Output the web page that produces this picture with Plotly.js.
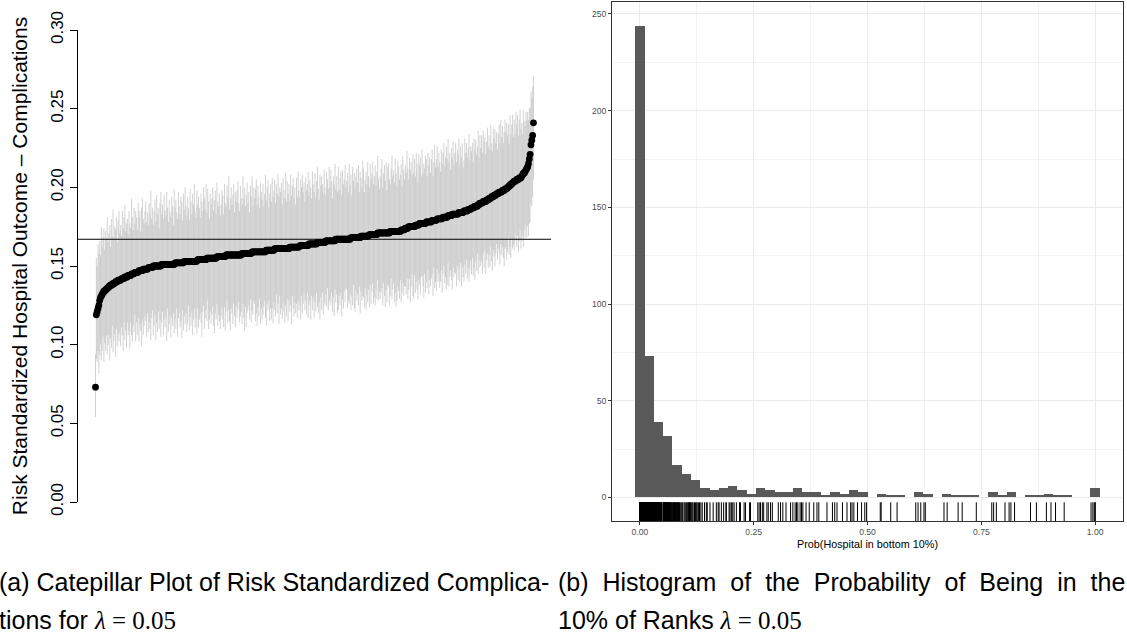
<!DOCTYPE html>
<html><head><meta charset="utf-8">
<script src="https://cdn.plot.ly/plotly-3.0.1.min.js"></script>
<style>html,body{margin:0;padding:0;background:#fff}#chart{width:1127px;height:638px}</style>
</head><body><div id="chart"></div>
<script>
// ---------- (a) Catepillar plot: risk standardized complication rate per hospital (sorted) ----------
const riskEstimate = [
.073,.119,.121,.123,.125,.128,.130,.131,.132,.133,
.134,.134,.135,.135,.136,.136,.137,.137,.138,.138,
.138,.139,.139,.139,.140,.140,.140,.141,.141,.141,
.141,.142,.142,.142,.142,.143,.143,.143,.143,.144,
.144,.144,.144,.145,.145,.145,.145,.146,.146,.146,
.146,.146,.147,.147,.147,.147,.147,.148,.148,.148,
.148,.148,.148,.149,.149,.149,.149,.149,.149,.150,
.150,.150,.150,.150,.150,.150,.150,.150,.150,.151,
.151,.151,.151,.151,.151,.151,.151,.151,.151,.151,
.151,.151,.151,.151,.151,.152,.152,.152,.152,.152,
.152,.152,.152,.152,.152,.152,.153,.153,.153,.153,
.153,.153,.153,.153,.153,.153,.153,.153,.153,.153,
.153,.153,.154,.154,.154,.154,.154,.154,.154,.154,
.154,.154,.154,.155,.155,.155,.155,.155,.155,.155,
.155,.155,.155,.155,.155,.156,.156,.156,.156,.156,
.156,.156,.156,.156,.156,.156,.157,.157,.157,.157,
.157,.157,.157,.157,.157,.157,.157,.157,.157,.157,
.157,.157,.157,.157,.157,.158,.158,.158,.158,.158,
.158,.158,.158,.158,.158,.158,.158,.159,.159,.159,
.159,.159,.159,.159,.159,.159,.159,.159,.159,.159,
.159,.159,.159,.159,.160,.160,.160,.160,.160,.160,
.160,.160,.160,.160,.161,.161,.161,.161,.161,.161,
.161,.161,.161,.161,.161,.161,.161,.161,.161,.161,
.161,.161,.162,.162,.162,.162,.162,.162,.162,.162,
.162,.162,.162,.162,.163,.163,.163,.163,.163,.163,
.163,.163,.163,.163,.163,.164,.164,.164,.164,.164,
.164,.164,.164,.164,.164,.165,.165,.165,.165,.165,
.165,.165,.165,.165,.165,.166,.166,.166,.166,.166,
.166,.166,.166,.166,.166,.166,.166,.167,.167,.167,
.167,.167,.167,.167,.167,.167,.167,.167,.167,.167,
.167,.167,.167,.167,.167,.168,.168,.168,.168,.168,
.168,.168,.168,.168,.168,.168,.168,.169,.169,.169,
.169,.169,.169,.169,.169,.169,.169,.170,.170,.170,
.170,.170,.170,.170,.170,.170,.170,.171,.171,.171,
.171,.171,.171,.171,.171,.171,.171,.171,.171,.171,
.171,.171,.172,.172,.172,.172,.172,.172,.172,.172,
.172,.172,.172,.172,.172,.173,.173,.173,.173,.173,
.174,.174,.174,.174,.175,.175,.175,.175,.175,.175,
.175,.175,.176,.176,.176,.176,.176,.177,.177,.177,
.177,.177,.177,.177,.177,.178,.178,.178,.178,.178,
.178,.178,.179,.179,.179,.179,.179,.179,.180,.180,
.180,.180,.180,.180,.180,.181,.181,.181,.181,.181,
.181,.182,.182,.182,.182,.182,.183,.183,.183,.183,
.183,.183,.183,.183,.184,.184,.184,.184,.184,.184,
.185,.185,.185,.185,.185,.186,.186,.186,.186,.187,
.187,.187,.187,.188,.188,.188,.188,.189,.189,.190,
.190,.190,.190,.191,.191,.191,.191,.192,.192,.192,
.193,.193,.193,.194,.194,.194,.195,.195,.195,.196,
.196,.196,.197,.197,.197,.197,.198,.198,.198,.199,
.199,.199,.200,.200,.201,.201,.202,.202,.203,.203,
.204,.204,.204,.205,.205,.205,.206,.206,.206,.207,
.208,.209,.209,.210,.211,.212,.213,.215,.218,.221,
.227,.230,.233,.241
];
// distance from estimate to upper end of interval
const ciUpper = [
.021,.036,.029,.041,.033,.038,.027,.044,.031,.035,
.040,.026,.037,.032,.045,.029,.034,.039,.024,.042,
.031,.047,.028,.036,.033,.041,.025,.038,.044,.030,
.035,.027,.043,.032,.039,.046,.029,.034,.037,.026,
.041,.033,.030,.048,.036,.028,.042,.031,.039,.035,
.027,.044,.034,.038,.025,.040,.046,.032,.029,.037,
.043,.030,.036,.027,.041,.034,.049,.031,.038,.026,
.035,.042,.028,.045,.033,.037,.024,.040,.047,.032,
.038,.029,.044,.034,.031,.046,.036,.027,.041,.033,
.030,.043,.037,.025,.048,.035,.040,.032,.028,.045,
.036,.031,.042,.039,.027,.044,.033,.047,.035,.029,
.041,.034,.026,.046,.038,.030,.043,.036,.049,.032,
.028,.045,.035,.040,.033,.027,.042,.037,.031,.046,
.039,.032,.048,.029,.044,.036,.025,.041,.034,.038,
.045,.030,.037,.043,.028,.047,.035,.032,.040,.026,
.033,.042,.039,.027,.046,.034,.031,.044,.037,.050,
.029,.036,.043,.032,.038,.045,.027,.040,.034,.041,
.047,.033,.028,.044,.036,.031,.049,.035,.042,.030,
.037,.045,.032,.039,.026,.043,.036,.048,.029,.041,
.034,.040,.046,.030,.042,.035,.028,.044,.038,.033,
.043,.029,.037,.049,.032,.040,.045,.027,.036,.042,
.031,.046,.034,.038,.044,.029,.041,.035,.047,.033,
.039,.036,.042,.028,.045,.037,.032,.048,.030,.043,
.035,.041,.029,.046,.033,.039,.044,.031,.038,.027,
.044,.032,.048,.036,.030,.042,.037,.045,.034,.040,
.028,.043,.035,.039,.047,.031,.041,.036,.029,.046,
.038,.033,.045,.030,.040,.048,.034,.027,.043,.036,
.042,.037,.031,.046,.035,.029,.044,.039,.033,.047,
.034,.045,.038,.027,.041,.036,.049,.032,.040,.030,
.046,.031,.039,.043,.028,.044,.035,.038,.047,.033,
.037,.042,.030,.048,.034,.040,.027,.045,.036,.041,
.032,.039,.044,.035,.046,.029,.042,.037,.031,.048,
.043,.028,.036,.041,.033,.047,.038,.030,.045,.035,
.039,.046,.032,.037,.044,.031,.040,.049,.034,.028,
.036,.041,.047,.029,.038,.043,.033,.045,.027,.042,
.044,.034,.030,.040,.048,.035,.039,.031,.046,.037,
.029,.045,.041,.033,.036,.042,.028,.047,.038,.032,
.040,.035,.049,.038,.030,.044,.036,.041,.033,.046,
.034,.043,.031,.046,.039,.027,.045,.037,.042,.030,
.047,.032,.038,.035,.043,.040,.029,.044,.036,.041,
.031,.040,.045,.028,.037,.048,.034,.039,.046,.033,
.042,.036,.030,.044,.035,.041,.047,.032,.038,.045,
.037,.049,.034,.040,.029,.043,.036,.046,.031,.039,
.045,.033,.041,.038,.047,.030,.042,.035,.044,.028,
.032,.046,.037,.043,.034,.039,.048,.031,.040,.036,
.041,.029,.044,.036,.042,.033,.038,.047,.030,.043,
.035,.043,.032,.045,.038,.041,.030,.037,.046,.034,
.040,.031,.047,.034,.029,.044,.036,.042,.033,.039,
.028,.038,.043,.031,.046,.035,.041,.030,.037,.044,
.036,.042,.033,.040,.027,.045,.032,.038,.043,.029,
.039,.030,.044,.035,.041,.028,.037,.043,.031,.034,
.026,.040,.033,.029,.037,.031,.035,.028,.032,.030,
.034,.027,.031,.030
];
// distance from estimate to lower end of interval
const ciLower = [
.019,.028,.032,.027,.043,.035,.030,.041,.036,.028,
.045,.033,.039,.029,.042,.036,.031,.047,.034,.040,
.026,.044,.037,.032,.048,.030,.041,.035,.039,.033,
.042,.031,.036,.046,.028,.040,.034,.045,.029,.038,
.035,.047,.030,.039,.043,.033,.037,.027,.044,.032,
.040,.029,.045,.034,.038,.048,.031,.042,.036,.030,
.033,.043,.028,.041,.035,.039,.046,.032,.027,.044,
.038,.031,.047,.036,.042,.029,.040,.034,.045,.037,
.030,.045,.035,.040,.033,.049,.028,.043,.038,.032,
.046,.034,.039,.031,.044,.036,.042,.029,.047,.035,
.032,.041,.037,.048,.030,.043,.035,.040,.033,.045,
.039,.028,.044,.035,.041,.032,.047,.037,.030,.042,
.036,.046,.031,.043,.038,.034,.040,.049,.033,.029,
.044,.037,.032,.040,.027,.045,.039,.034,.042,.036,
.031,.043,.048,.035,.039,.030,.044,.037,.041,.046,
.038,.033,.040,.045,.032,.047,.036,.029,.043,.035,
.042,.048,.034,.037,.044,.031,.039,.046,.033,.040,
.035,.030,.043,.039,.036,.045,.032,.041,.049,.034,
.047,.038,.036,.033,.042,.029,.044,.037,.040,.031,
.033,.044,.039,.047,.035,.041,.030,.046,.036,.043,
.040,.035,.031,.042,.048,.034,.038,.032,.045,.037,
.044,.037,.046,.033,.039,.043,.029,.041,.035,.048,
.030,.042,.038,.045,.034,.040,.047,.036,.043,.032,
.046,.033,.041,.037,.049,.031,.039,.044,.035,.042,
.036,.045,.034,.040,.038,.047,.032,.043,.037,.030,
.041,.035,.044,.030,.046,.039,.036,.048,.033,.042,
.034,.047,.037,.043,.031,.041,.045,.038,.049,.035,
.043,.032,.046,.038,.040,.034,.042,.030,.044,.039,
.037,.041,.033,.045,.036,.048,.031,.040,.035,.047,
.045,.036,.042,.034,.049,.038,.044,.033,.040,.031,
.032,.044,.039,.041,.035,.046,.037,.043,.030,.045,
.047,.034,.040,.036,.043,.031,.048,.035,.041,.038,
.039,.045,.033,.047,.037,.042,.034,.046,.032,.044,
.036,.031,.044,.040,.045,.035,.041,.030,.043,.037,
.042,.038,.035,.046,.032,.040,.047,.036,.044,.033,
.034,.046,.041,.030,.043,.037,.033,.045,.039,.048,
.044,.035,.038,.043,.031,.046,.040,.034,.042,.036,
.037,.042,.032,.045,.040,.033,.048,.038,.030,.044,
.046,.031,.043,.036,.041,.047,.035,.039,.045,.034,
.033,.040,.047,.032,.044,.038,.042,.030,.046,.037,
.041,.036,.034,.048,.030,.043,.039,.045,.032,.040,
.035,.044,.040,.033,.047,.036,.031,.042,.038,.046,
.043,.030,.045,.039,.035,.041,.048,.034,.040,.037,
.038,.046,.033,.042,.036,.044,.032,.047,.035,.041,
.045,.034,.040,.031,.043,.037,.046,.039,.033,.042,
.032,.043,.038,.047,.035,.041,.030,.044,.040,.036,
.040,.037,.045,.033,.042,.031,.046,.038,.034,.043,
.036,.044,.031,.041,.047,.034,.039,.045,.037,.032,
.042,.035,.039,.046,.033,.040,.036,.043,.048,.038,
.037,.045,.041,.032,.044,.039,.047,.035,.042,.040,
.044,.038,.034,.043,.036,.046,.040,.033,.045,.041,
.039,.047,.036,.042,.035,.044,.038,.046,.041,.043,
.037,.042,.039,.036
];
const overallRate = 0.167;
const yTickValsA = [0, 0.05, 0.10, 0.15, 0.20, 0.25, 0.30];
const yTickTextA = ["0.00", "0.05", "0.10", "0.15", "0.20", "0.25", "0.30"];
const yTitleA = "Risk Standardized Hospital Outcome \u2013 Complications";

// ---------- (b) Probability that each hospital is in the bottom 10% of ranks ----------
const probBottom10 = [
0,0,0,0,0,0,0,0,0,0,0,0,0,0,0,0,0,0,0,0,
0,0,0,0,0,0,0,0,0,0,0,0,0,0,0,0,0,0,0,0,
0,0,0,0,0,0,0,0,0,0,0,0,0,0,0,0,0,0,0,0,
0,0,0,0,0,0,0,0,0,0,0,0,0,0,0,0,0,0,0,0,
0,0,0,0,0,0,0,0,0,0,0,0,0,0,0,0,0,0,0,0,
.001,.001,.001,.001,.001,.001,.001,.001,.001,.001,.001,.001,.001,.001,.001,.001,.001,.001,.001,.001,
.001,.001,.001,.001,.001,.001,.001,.001,.001,.001,.001,.001,.001,.001,.001,.001,.001,.001,.001,.001,
.002,.002,.002,.002,.002,.002,.002,.002,.002,.002,.002,.002,.002,.002,.002,.002,.002,.002,.002,.002,
.002,.002,.002,.002,.002,
.003,.003,.003,.003,.003,.003,.003,.003,.003,.003,.003,.003,.003,.003,.003,.003,.003,.003,.003,.003,
.004,.004,.004,.004,.004,.004,.004,.004,.004,.004,.004,.004,.004,.004,.004,
.005,.005,.005,.005,.005,.005,.005,.005,.005,.005,.005,.005,
.006,.006,.006,.006,.006,.006,.006,.006,.006,.006,
.007,.007,.007,.007,.007,.007,.007,.007,
.008,.008,.008,.008,.008,.008,.008,
.009,.009,.009,.009,
.010,.010,.010,
.011,.011,.011,.011,.011,.011,.011,.012,.012,.012,.012,.012,.012,
.013,.013,.013,.013,.013,.013,.014,.014,.014,.014,.014,
.015,.015,.015,.015,.015,.016,.016,.016,.016,.016,
.017,.017,.017,.017,.018,.018,.018,.018,.019,.019,.019,.019,.020,.020,.020,.020,
.021,.021,.021,.022,.022,.022,.023,.023,.023,.024,.024,.024,
.025,.025,.026,.026,.027,.027,.028,.028,.029,.029,.030,
.031,.031,.031,.032,.032,.032,.033,.033,.033,.034,.034,.035,.035,.035,
.036,.036,.037,.037,.038,.038,.039,.039,.040,.040,.041,.041,.042,.042,
.043,.043,.044,.044,.045,.045,.046,.047,.047,.048,.049,
.052,.052,.053,.053,.054,.054,.055,.055,.056,.056,.057,.057,.058,.058,.059,.059,
.060,.060,.061,.061,.062,.062,.063,.064,.064,.065,.066,.066,.067,.068,.069,.070,
.072,.073,.074,.075,.076,.077,.078,.079,.080,.081,.082,.083,.084,.085,.087,.088,.090,
.092,.094,.097,.099,.101,.103,.104,.106,.107,.109,.110,.111,
.113,.115,.117,.120,.122,.124,.126,.129,.131,
.134,.137,.142,.146,.148,
.154,.161,.168,.172,
.174,.179,.184,.189,.190,
.196,.198,.201,.204,.207,.212,
.219,.221,.229,.232,
.241,.243,
.259,.262,.265,.269,.272,
.279,.282,.287,.291,
.304,.309,.314,
.321,.331,.336,
.341,.344,.347,.352,.355,
.358,.365,.372,
.382,.389,.393,
.411,
.423,.428,.433,
.445,.455,
.463,.466,.470,.478,
.487,.494,.498,
.528,.530,
.551,
.565,
.606,.611,.617,
.624,.627,
.668,.675,
.699,
.708,
.739,
.773,.777,.783,
.802,
.811,.815,.823,
.858,
.871,
.893,.903,
.913,
.932,
.991,.995,.998,1,1
];
const histBinCount = 50;           // ggplot bins = 50 over [0, 1]
const xTickValsB = [0, 0.25, 0.5, 0.75, 1];
const xTickTextB = ["0.00", "0.25", "0.50", "0.75", "1.00"];
const xMinorB = [0.125, 0.375, 0.625, 0.875];
const yTickValsB = [0, 50, 100, 150, 200, 250];
const yMinorB = [25, 75, 125, 175, 225];
const xTitleB = "Prob(Hospital in bottom 10%)";

const captionA1 = "(a) Catepillar Plot of Risk Standardized Complica-";
const captionA2 = "tions for ";
const captionB1 = "(b) Histogram of the Probability of Being in the";
const captionB2 = "10% of Ranks ";
const lambdaText = "<i>\u03bb</i> = 0.05";

// ---------- build ----------
const hospitalRank = riskEstimate.map((_, i) => i + 1);
const nHosp = riskEstimate.length;
const padA = 0.04 * (nHosp - 1);
const binW = 1 / (histBinCount - 1);

const traces = [
  { type: 'scatter', mode: 'markers', x: hospitalRank, y: riskEstimate,
    marker: { size: 1, color: 'rgba(0,0,0,0)' },
    error_y: { type: 'data', symmetric: false, array: ciUpper, arrayminus: ciLower,
               color: '#BEBEBE', thickness: 0.7, width: 0 },
    xaxis: 'x', yaxis: 'y', hoverinfo: 'skip' },
  { type: 'scatter', mode: 'markers', x: hospitalRank, y: riskEstimate,
    marker: { size: 6.8, color: '#000000' }, xaxis: 'x', yaxis: 'y' },
  { type: 'histogram', x: probBottom10,
    xbins: { start: -binW / 2, end: 1 + binW / 2, size: binW },
    marker: { color: '#595959', line: { width: 0 } }, xaxis: 'x2', yaxis: 'y2' },
  { type: 'scatter', mode: 'markers', x: probBottom10, y: probBottom10.map(() => 0.015),
    marker: { symbol: 'line-ns', size: 15.6, color: '#000', line: { width: 1, color: '#000' } },
    xaxis: 'x2', yaxis: 'y3' }
];

const W = 1127, H = 638;
const px = v => v / W, py = v => 1 - v / H;
const gridCol = '#EBEBEB';

const layout = {
  width: W, height: H, margin: { l: 0, r: 0, t: 0, b: 0 },
  paper_bgcolor: '#fff', plot_bgcolor: 'rgba(0,0,0,0)', showlegend: false, bargap: 0,
  font: { family: 'Liberation Sans, Arial, sans-serif', color: '#000' },
  xaxis: { domain: [px(78), px(551)], range: [1 - padA, nHosp + padA], visible: false },
  yaxis: { domain: [py(502), py(30)], range: [0, 0.30], anchor: 'x',
    tickmode: 'array', tickvals: yTickValsA, ticktext: yTickTextA, tickangle: -90,
    ticks: 'outside', ticklen: 7, tickwidth: 1, tickcolor: '#000',
    showline: true, linecolor: '#000', linewidth: 1, showgrid: false, zeroline: false,
    tickfont: { size: 17, color: '#000' },
    title: { text: yTitleA, font: { size: 21, color: '#000' }, standoff: 14 } },
  xaxis2: { domain: [px(612), px(1123)], range: [-0.0612, 1.0612], anchor: 'y2',
    tickmode: 'array', tickvals: xTickValsB, ticktext: xTickTextB,
    ticks: 'outside', ticklen: 3, tickwidth: 1, tickcolor: '#333333',
    showline: true, mirror: true, linecolor: '#333333', linewidth: 1, zeroline: false,
    showgrid: true, gridcolor: gridCol, gridwidth: 1,
    minor: { tickmode: 'array', tickvals: xMinorB, showgrid: true, gridcolor: gridCol, gridwidth: 0.6, ticks: '' },
    tickfont: { size: 8.6, color: '#4D4D4D' },
    title: { text: xTitleB, font: { size: 10.8, color: '#000' }, standoff: 4 } },
  yaxis2: { domain: [py(521), py(2)], range: [-12.2, 256.2], anchor: 'x2',
    tickmode: 'array', tickvals: yTickValsB,
    ticks: 'outside', ticklen: 3, tickwidth: 1, tickcolor: '#333333',
    showline: true, mirror: true, linecolor: '#333333', linewidth: 1, zeroline: false,
    showgrid: true, gridcolor: gridCol, gridwidth: 1,
    minor: { tickmode: 'array', tickvals: yMinorB, showgrid: true, gridcolor: gridCol, gridwidth: 0.6, ticks: '' },
    tickfont: { size: 8.6, color: '#4D4D4D' } },
  yaxis3: { overlaying: 'y2', anchor: 'x2', range: [0, 1], visible: false },
  shapes: [
    { type: 'line', xref: 'x domain', x0: 0, x1: 1, yref: 'y', y0: overallRate, y1: overallRate,
      line: { color: '#000', width: 1 }, layer: 'above' }
  ],
  annotations: [
    { xref: 'paper', yref: 'paper', x: 0, y: py(582), xanchor: 'left', yanchor: 'middle', xshift: -3,
      showarrow: false, text: captionA1, font: { size: 25, color: '#000' } },
    { xref: 'paper', yref: 'paper', x: 0, y: py(620), xanchor: 'left', yanchor: 'middle', xshift: -3,
      showarrow: false, text: captionA2 + '<span style="font-family:Liberation Serif">' + lambdaText + '</span>',
      font: { size: 25, color: '#000' } },
    { xref: 'paper', yref: 'paper', x: px(556), y: py(582), xanchor: 'left', yanchor: 'middle',
      showarrow: false, text: '<span style="word-spacing:7px">' + captionB1 + '</span>', font: { size: 25, color: '#000' } },
    { xref: 'paper', yref: 'paper', x: px(556), y: py(620), xanchor: 'left', yanchor: 'middle',
      showarrow: false, text: captionB2 + '<span style="font-family:Liberation Serif">' + lambdaText + '</span>',
      font: { size: 25, color: '#000' } }
  ]
};

Plotly.newPlot('chart', traces, layout, { staticPlot: true, displayModeBar: false });
</script>
</body></html>
